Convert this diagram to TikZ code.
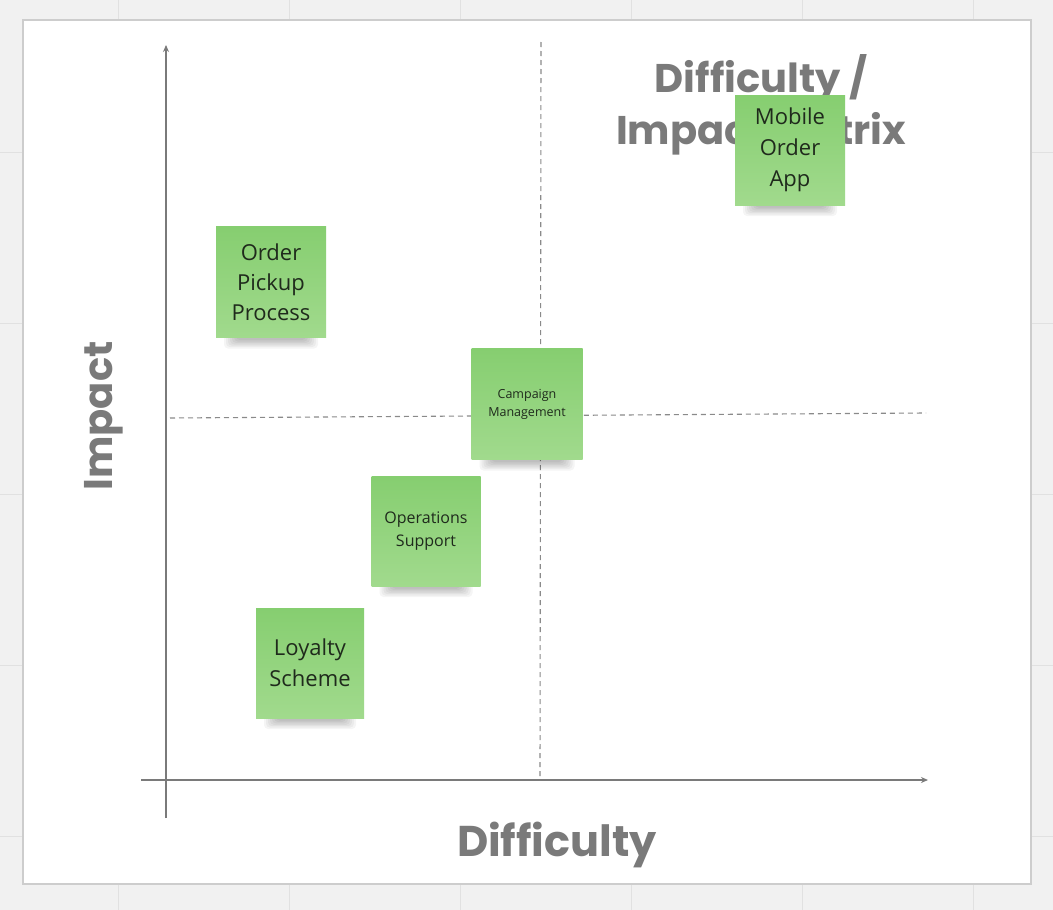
\documentclass[tikz,border=0pt]{standalone}
\usepackage{fontspec}
\setmainfont{Open Sans}
\newfontfamily\titlefont{Poppins}
\usetikzlibrary{arrows.meta}
\definecolor{bg}{HTML}{F1F1F1}
\definecolor{gridc}{HTML}{E1E1E1}
\definecolor{panelborder}{HTML}{CDCDCD}
\definecolor{axisc}{HTML}{7A7A7A}
\definecolor{dashc}{HTML}{8A8A8A}
\definecolor{titlec}{HTML}{7A7A7A}
\definecolor{notetop}{HTML}{86CE70}
\definecolor{notebot}{HTML}{A1DA8D}
\definecolor{notetext}{HTML}{1F2A1C}
\tikzset{
  gridline/.style={gridc, line width=1pt},
  axis/.style={axisc, line width=1.3pt, -{Stealth[length=7pt,width=6pt]}},
  divider/.style={dashc, line width=1.1pt, dash pattern=on 5pt off 4pt},
  biglabel/.style={text=titlec, font=\titlefont\bfseries\fontsize{40}{52}\selectfont, align=center, inner sep=0pt},
  note/.style={top color=notetop, bottom color=notebot, draw=none, text=notetext, align=center, inner sep=2pt},
}
\newcommand\stickynote[8]{%
  \foreach \i in {0,...,6} {
    \fill[black,opacity=0.04,rounded corners=4pt] ({#2-#4/2+8+\i*2},{#3+#5/2-6}) rectangle ({#2+#4/2-8-\i*2},{#3+#5/2+11-\i*1.4});
  }
  \node[note,minimum width=#4,minimum height=#5,font=\fontsize{#6}{#7}\selectfont] (#1) at (#2,#3) {#8};
}
\begin{document}
\begin{tikzpicture}[x=1pt,y=-1pt]
\useasboundingbox (0,0) rectangle (1053,910);
\fill[bg] (0,0) rectangle (1053,910);
\foreach \gx in {118,289,460,631,802,973} \draw[gridline] (\gx,0) -- (\gx,910);
\foreach \gy in {152,323,494,665,836} \draw[gridline] (0,\gy) -- (1053,\gy);
\fill[white] (23,20) rectangle (1031,884);
\draw[panelborder, line width=1.5pt] (23,20) rectangle (1031,884);

% axes
\coordinate (ybot) at (166,818);
\coordinate (ytop) at (166,45);
\coordinate (xleft) at (141,780);
\coordinate (xright) at (928,780);
\draw[axis] (ybot) -- (ytop);
\draw[axis] (xleft) -- (xright);

% quadrant dividers
\coordinate (vtop) at (541,42);
\coordinate (vbot) at (540,780);
\coordinate (hleft) at (170,418);
\coordinate (hright) at (926,413);
\draw[divider] (vtop) -- (vbot);
\draw[divider] (hleft) -- (hright);

% labels
\node[biglabel] (title) at (761,105) {Difficulty /\\Impact Matrix};
\node[biglabel, rotate=90] (impact) at (104,416) {Impact};
\node[biglabel, font=\titlefont\bfseries\fontsize{43}{52}\selectfont] (difflabel) at (557,845) {Difficulty};

% sticky notes
\stickynote{mobile}{790}{150}{110}{110}{22}{31}{Mobile\\Order\\App}
\stickynote{pickup}{271}{282}{110}{111}{22}{30}{Order\\Pickup\\Process}
\stickynote{campaign}{527}{404}{111}{111}{12.5}{18}{Campaign\\Management}
\stickynote{operations}{426}{531}{109}{110}{16}{23}{Operations\\Support}
\stickynote{loyalty}{310}{663}{108}{110}{22}{31}{Loyalty\\Scheme}
\end{tikzpicture}
\end{document}
